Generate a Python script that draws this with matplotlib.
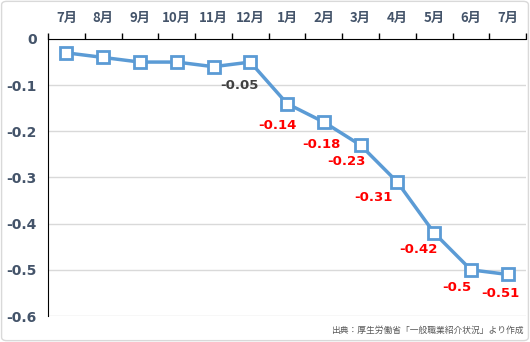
import matplotlib
matplotlib.use('Agg')
import matplotlib.pyplot as plt
from matplotlib.patches import FancyBboxPatch
from matplotlib.ticker import FixedLocator

plt.rcParams['font.family'] = ['Noto Sans CJK JP', 'DejaVu Sans']

months = ['7月', '8月', '9月', '10月', '11月', '12月', '1月', '2月', '3月', '4月', '5月', '6月', '7月']
values = [-0.03, -0.04, -0.05, -0.05, -0.06, -0.05, -0.14, -0.18, -0.23, -0.31, -0.42, -0.5, -0.51]
# which points get a data label, and in which colour
labeled = [5, 6, 7, 8, 9, 10, 11, 12]
label_text = ['-0.05', '-0.14', '-0.18', '-0.23', '-0.31', '-0.42', '-0.5', '-0.51']
label_color = ['#404040'] + ['#FF0000'] * 7
y_ticks = [0, -0.1, -0.2, -0.3, -0.4, -0.5, -0.6]
y_tick_labels = ['0', '-0.1', '-0.2', '-0.3', '-0.4', '-0.5', '-0.6']

fig = plt.figure(figsize=(5.3, 3.42), dpi=100)
ax = fig.add_axes([0.0906, 0.076, 0.902, 0.810])

x = list(range(len(months)))
ax.plot(x, values, color='#5B9BD5', lw=2.5, marker='s', ms=9,
        mfc='white', mec='#5B9BD5', mew=2, zorder=3)

offsets = [(-8, -17), (-7, -16), (-2, -16), (-10, -12), (-17, -11), (-11, -12), (-10, -13), (-5, -14)]
for i, txt, c, off in zip(labeled, label_text, label_color, offsets):
    ax.annotate(txt, (x[i], values[i]), xytext=off, textcoords='offset points',
                ha='center', va='center', fontsize=9.5, fontweight='bold', color=c,
                family=['DejaVu Sans'])

ax.set_xlim(-0.5, len(months) - 0.5)
ax.set_ylim(-0.6, 0)

ax.xaxis.tick_top()
ax.set_xticks(x)
ax.set_xticklabels(months, fontsize=9.5, fontweight='bold', color='#44546A')
ax.xaxis.set_minor_locator(FixedLocator([i - 0.5 for i in range(len(months) + 1)]))
ax.tick_params(axis='x', which='major', length=0, pad=10)
ax.tick_params(axis='x', which='minor', length=4, width=1, color='black', top=True, bottom=False)

ax.set_yticks(y_ticks)
ax.set_yticklabels(y_tick_labels, fontsize=10, fontweight='bold', color='#44546A',
                   family=['DejaVu Sans'])
ax.tick_params(axis='y', length=0, pad=8)

ax.grid(axis='y', color='#D9D9D9', lw=1)
ax.set_axisbelow(True)
for s in ['right', 'bottom']:
    ax.spines[s].set_visible(False)
ax.spines['top'].set_color('black')
ax.spines['left'].set_color('black')

fig.text(0.988, 0.035, '出典：厚生労働省「一般職業紹介状況」より作成', ha='right', va='center',
         fontsize=6.3, color='#595959')

fig.patches.append(FancyBboxPatch((0.003, 0.004), 0.994, 0.992, boxstyle='round,pad=0,rounding_size=0.01',
                                  transform=fig.transFigure, fill=False, ec='#D9D9D9', lw=1))

fig.savefig('out.png', dpi=100)
